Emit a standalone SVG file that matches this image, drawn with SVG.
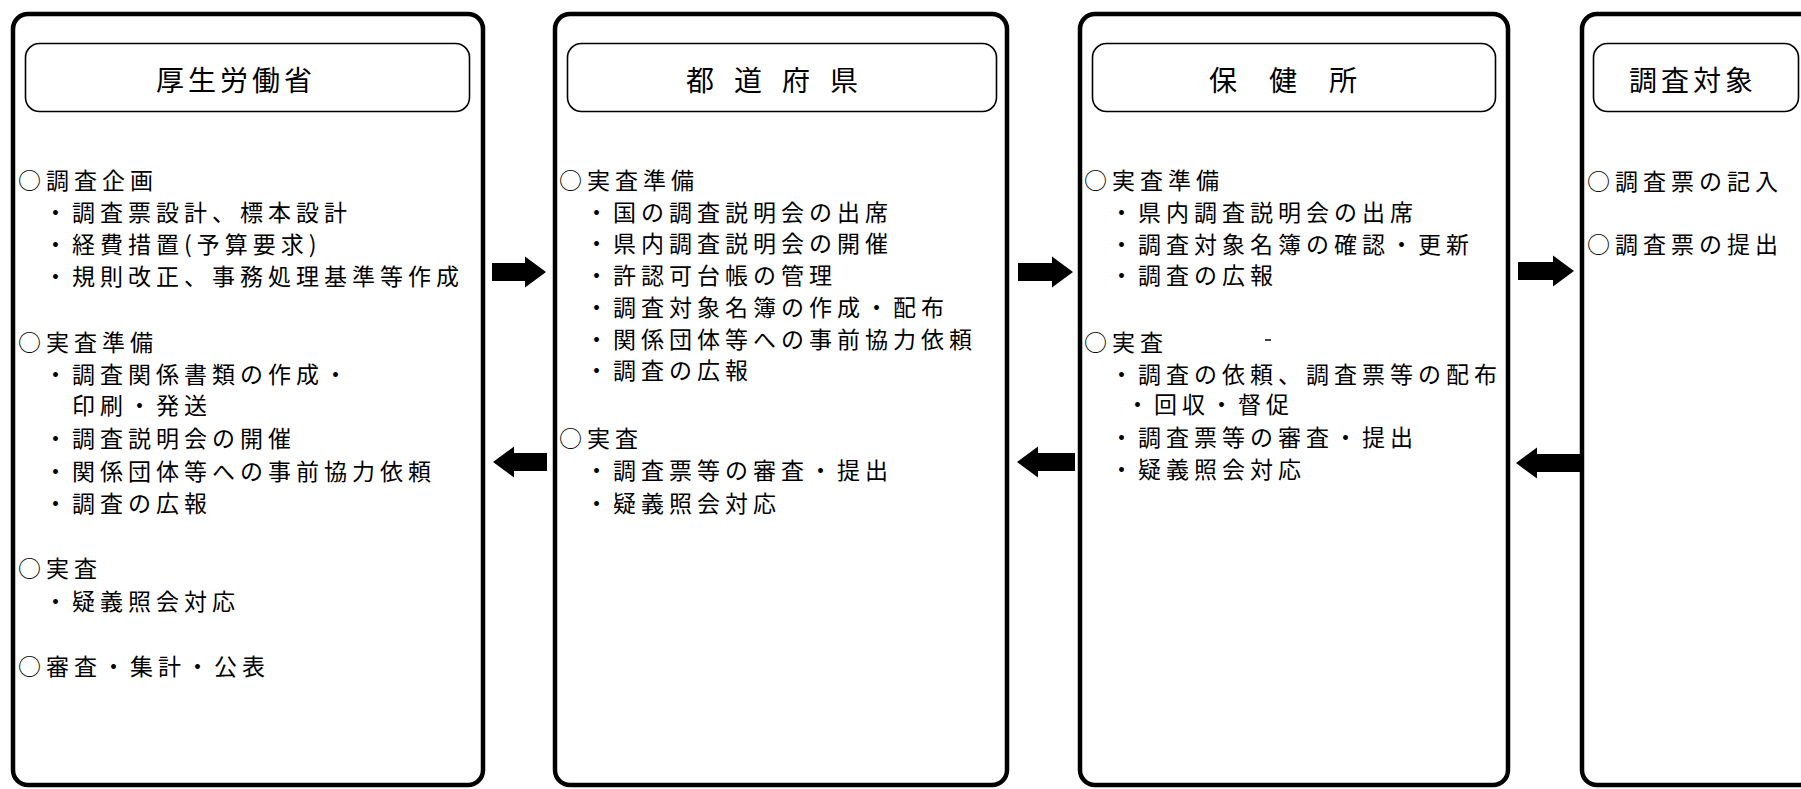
<svg xmlns="http://www.w3.org/2000/svg" width="1801" height="789" viewBox="0 0 1801 789">
<style>
.box{fill:#fff;stroke:#000;stroke-width:4.5}
.hdr{fill:none;stroke:#000;stroke-width:1.6}
.t{font-family:"Noto Sans CJK JP","Noto Sans CJK SC",sans-serif;font-size:23px;letter-spacing:5px;dominant-baseline:central;fill:#000}
.ttl{font-family:"Noto Sans CJK JP","Noto Sans CJK SC",sans-serif;font-size:28px;letter-spacing:4px;dominant-baseline:central;fill:#000}
.arr{fill:#000}
</style>
<rect width="1801" height="789" fill="#fff"/>
<g id="node-mhlw">
<rect class="box" x="13" y="14" width="470" height="771" rx="15"/>
<rect class="hdr" x="25.5" y="43.5" width="444" height="68" rx="14"/>
<text class="ttl" x="156" y="79">厚生労働省</text>
<text class="t" x="18" y="179">○調査企画</text>
<text class="t" x="44" y="211">・調査票設計、標本設計</text>
<text class="t" x="44" y="243">・経費措置(予算要求)</text>
<text class="t" x="44" y="275">・規則改正、事務処理基準等作成</text>
<text class="t" x="18" y="341">○実査準備</text>
<text class="t" x="44" y="373">・調査関係書類の作成・</text>
<text class="t" x="72" y="404">印刷・発送</text>
<text class="t" x="44" y="437">・調査説明会の開催</text>
<text class="t" x="44" y="470">・関係団体等への事前協力依頼</text>
<text class="t" x="44" y="502">・調査の広報</text>
<text class="t" x="18" y="567">○実査</text>
<text class="t" x="44" y="600">・疑義照会対応</text>
<text class="t" x="18" y="665">○審査・集計・公表</text>
</g>
<g id="node-prefecture">
<rect class="box" x="555" y="14" width="452" height="771" rx="15"/>
<rect class="hdr" x="567.5" y="43.5" width="429" height="68" rx="14"/>
<text class="ttl" y="79"><tspan x="686">都</tspan> <tspan x="734">道</tspan> <tspan x="782">府</tspan> <tspan x="830">県</tspan></text>
<text class="t" x="559" y="179">○実査準備</text>
<text class="t" x="585" y="211">・国の調査説明会の出席</text>
<text class="t" x="585" y="242">・県内調査説明会の開催</text>
<text class="t" x="585" y="274">・許認可台帳の管理</text>
<text class="t" x="585" y="306">・調査対象名簿の作成・配布</text>
<text class="t" x="585" y="338">・関係団体等への事前協力依頼</text>
<text class="t" x="585" y="369">・調査の広報</text>
<text class="t" x="559" y="437">○実査</text>
<text class="t" x="585" y="469">・調査票等の審査・提出</text>
<text class="t" x="585" y="502">・疑義照会対応</text>
</g>
<g id="node-hokenjo">
<rect class="box" x="1080" y="14" width="428" height="771" rx="15"/>
<rect class="hdr" x="1092.5" y="43.5" width="403" height="68" rx="14"/>
<text class="ttl" y="79"><tspan x="1209">保</tspan> <tspan x="1269">健</tspan> <tspan x="1329">所</tspan></text>
<text class="t" x="1084" y="179">○実査準備</text>
<text class="t" x="1110" y="211">・県内調査説明会の出席</text>
<text class="t" x="1110" y="243">・調査対象名簿の確認・更新</text>
<text class="t" x="1110" y="274">・調査の広報</text>
<text class="t" x="1084" y="341">○実査</text>
<line x1="1265" y1="340" x2="1271" y2="340" stroke="#000" stroke-width="1.5"/>
<text class="t" x="1110" y="373">・調査の依頼、調査票等の配布</text>
<text class="t" x="1126" y="403">・回収・督促</text>
<text class="t" x="1110" y="436">・調査票等の審査・提出</text>
<text class="t" x="1110" y="468">・疑義照会対応</text>
</g>
<g id="node-target">
<rect class="box" x="1582" y="14" width="300" height="771" rx="15"/>
<rect class="hdr" x="1593.5" y="43.5" width="205" height="68" rx="14"/>
<text class="ttl" x="1629" y="79">調査対象</text>
<text class="t" x="1587" y="180">○調査票の記入</text>
<text class="t" x="1587" y="243">○調査票の提出</text>
</g>
<g id="connectors">
<path class="arr" d="M492,263 H525 V256.5 L546,272 L525,287.5 V281 H492 Z"/>
<path class="arr" d="M1018,263 H1052 V256.5 L1073,272 L1052,287.5 V281 H1018 Z"/>
<path class="arr" d="M1518,262 H1553 V255.5 L1574,271 L1553,286.5 V280 H1518 Z"/>
<path class="arr" d="M493,462 L514,446.5 V453 H547 V471 H514 V477.5 Z"/>
<path class="arr" d="M1017,462 L1038,446.5 V453 H1075 V471 H1038 V477.5 Z"/>
<path class="arr" d="M1516,463 L1537,447.5 V454 H1580 V472 H1537 V478.5 Z"/>
</g>
</svg>
